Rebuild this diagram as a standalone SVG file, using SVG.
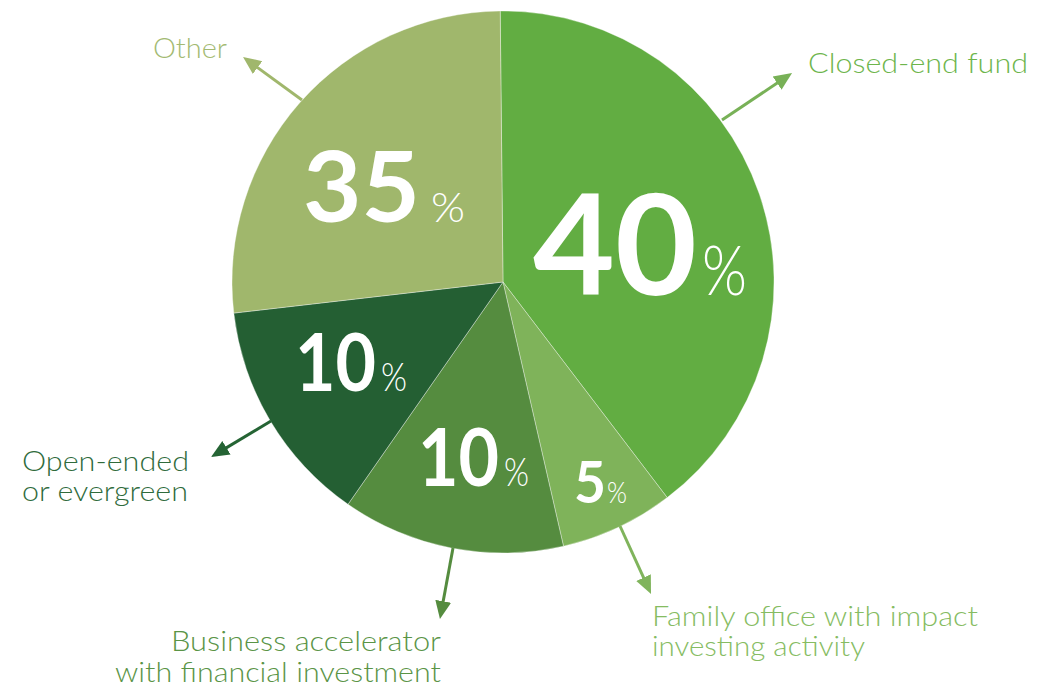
<svg xmlns="http://www.w3.org/2000/svg" width="1050" height="686" viewBox="0 0 1050 686">
<style>
  .slice { stroke: #ffffff; stroke-opacity: 0.35; stroke-width: 1; }
  .val { font-family: Lato, "Liberation Sans", sans-serif; fill: #ffffff; }
  .num { font-weight: 700; }
  .pct { font-weight: 300; }
  .lbl { font-family: Lato, "Liberation Sans", sans-serif; font-weight: 300; font-size: 28px; }
  .conn { stroke-width: 3; fill: none; }
</style>
<defs>
  <marker id="ah-other" markerUnits="userSpaceOnUse" viewBox="0 0 18 18" markerWidth="18" markerHeight="18" refX="10" refY="9" orient="auto"><path d="M0,1 L18,9 L0,17 z" fill="#a0b76c"/></marker>
  <marker id="ah-closed" markerUnits="userSpaceOnUse" viewBox="0 0 18 18" markerWidth="18" markerHeight="18" refX="10" refY="9" orient="auto"><path d="M0,1 L18,9 L0,17 z" fill="#78b157"/></marker>
  <marker id="ah-open" markerUnits="userSpaceOnUse" viewBox="0 0 18 18" markerWidth="18" markerHeight="18" refX="10" refY="9" orient="auto"><path d="M0,1 L18,9 L0,17 z" fill="#256434"/></marker>
  <marker id="ah-biz" markerUnits="userSpaceOnUse" viewBox="0 0 18 18" markerWidth="18" markerHeight="18" refX="10" refY="9" orient="auto"><path d="M0,1 L18,9 L0,17 z" fill="#558c3f"/></marker>
  <marker id="ah-family" markerUnits="userSpaceOnUse" viewBox="0 0 18 18" markerWidth="18" markerHeight="18" refX="10" refY="9" orient="auto"><path d="M0,1 L18,9 L0,17 z" fill="#80b45c"/></marker>
</defs>

<g id="slice-closed-end">
  <path class="slice" d="M503,282 L500.2,11 A271,271 0 0 1 667.2,497.6 Z" fill="#62ad42"/>
  <text class="val" y="295"><tspan class="num" x="533" font-size="139" textLength="164" lengthAdjust="spacingAndGlyphs">40</tspan><tspan class="pct" x="702" font-size="68" textLength="45" lengthAdjust="spacingAndGlyphs">%</tspan></text>
</g>
<g id="slice-family-office">
  <path class="slice" d="M503,282 L667.2,497.6 A271,271 0 0 1 563.5,546.2 Z" fill="#7fb35a"/>
  <text class="val" y="503"><tspan class="num" x="574" font-size="57" textLength="32" lengthAdjust="spacingAndGlyphs">5</tspan><tspan class="pct" x="607" font-size="29" textLength="20" lengthAdjust="spacingAndGlyphs">%</tspan></text>
</g>
<g id="slice-business-accelerator">
  <path class="slice" d="M503,282 L563.5,546.2 A271,271 0 0 1 348,504.3 Z" fill="#558c3f"/>
  <text class="val" y="486"><tspan class="num" x="418" font-size="80" textLength="81" lengthAdjust="spacingAndGlyphs">10</tspan><tspan class="pct" x="504" font-size="40" textLength="25" lengthAdjust="spacingAndGlyphs">%</tspan></text>
</g>
<g id="slice-open-ended">
  <path class="slice" d="M503,282 L348,504.3 A271,271 0 0 1 233.8,313.1 Z" fill="#245f33"/>
  <text class="val" y="391"><tspan class="num" x="295" font-size="80" textLength="81" lengthAdjust="spacingAndGlyphs">10</tspan><tspan class="pct" x="381" font-size="40" textLength="26" lengthAdjust="spacingAndGlyphs">%</tspan></text>
</g>
<g id="slice-other">
  <path class="slice" d="M503,282 L233.8,313.1 A271,271 0 0 1 500.2,11 Z" fill="#a0b76c"/>
  <text class="val" y="222"><tspan class="num" x="303" font-size="97" textLength="117" lengthAdjust="spacingAndGlyphs">35</tspan><tspan class="pct" x="431" font-size="42" textLength="34" lengthAdjust="spacingAndGlyphs">%</tspan></text>
</g>

<g id="connectors">
  <line class="conn" x1="302" y1="100" x2="249.5" y2="61.7" stroke="#a0b76c" marker-end="url(#ah-other)"/>
  <line class="conn" x1="722" y1="120" x2="785.4" y2="77.5" stroke="#78b157" marker-end="url(#ah-closed)"/>
  <line class="conn" x1="271" y1="421" x2="217.9" y2="452.9" stroke="#256434" marker-end="url(#ah-open)"/>
  <line class="conn" x1="453" y1="548" x2="441.4" y2="611.1" stroke="#558c3f" marker-end="url(#ah-biz)"/>
  <line class="conn" x1="620" y1="526" x2="647.7" y2="586.7" stroke="#80b45c" marker-end="url(#ah-family)"/>
</g>

<g id="label-other">
  <text class="lbl" x="153" y="58" fill="#a3ba72" textLength="74" lengthAdjust="spacingAndGlyphs">Other</text>
</g>
<g id="label-closed-end">
  <text class="lbl" x="808" y="73" fill="#6db54c" textLength="220" lengthAdjust="spacingAndGlyphs">Closed-end fund</text>
</g>
<g id="label-open-ended">
  <text class="lbl" fill="#2f6b3c"><tspan x="22" y="471" textLength="167" lengthAdjust="spacingAndGlyphs">Open-ended</tspan><tspan x="22" y="501" textLength="166" lengthAdjust="spacingAndGlyphs">or evergreen</tspan></text>
</g>
<g id="label-business">
  <text class="lbl" fill="#5a9446"><tspan x="171" y="651" textLength="270" lengthAdjust="spacingAndGlyphs">Business accelerator</tspan><tspan x="115" y="682" textLength="326" lengthAdjust="spacingAndGlyphs">with financial investment</tspan></text>
</g>
<g id="label-family">
  <text class="lbl" fill="#86bc62"><tspan x="652" y="626" textLength="326" lengthAdjust="spacingAndGlyphs">Family office with impact</tspan><tspan x="652" y="656" textLength="213" lengthAdjust="spacingAndGlyphs">investing activity</tspan></text>
</g>
</svg>
